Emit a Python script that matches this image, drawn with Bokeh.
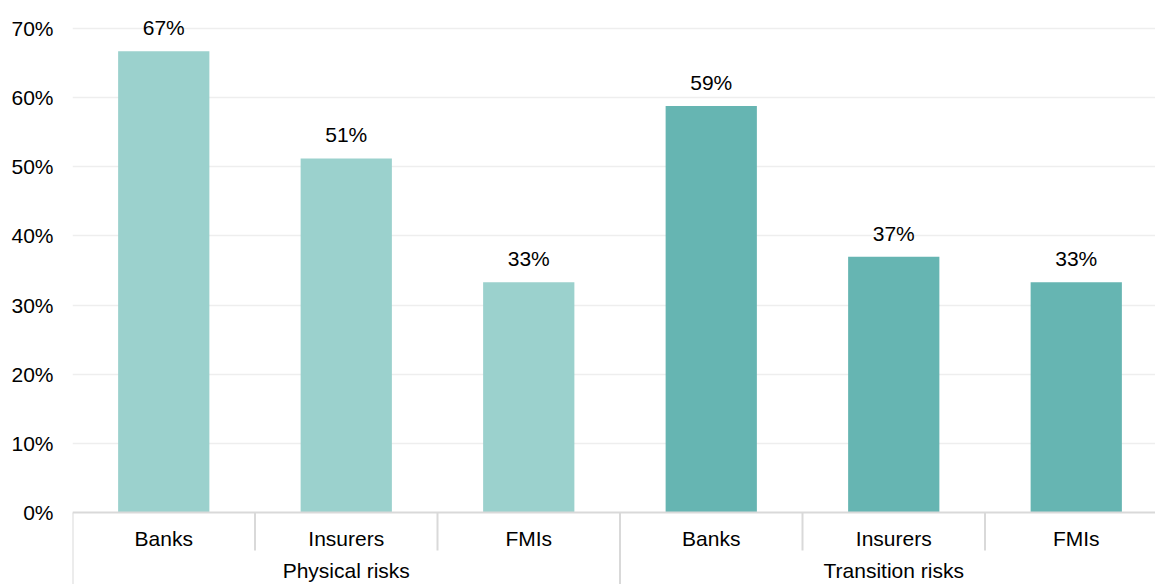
from bokeh.plotting import figure
from bokeh.models import Range1d, FixedTicker, ColumnDataSource, NumeralTickFormatter
from bokeh.core.properties import value
from bokeh.embed import file_html
from bokeh.resources import INLINE

# ---- data ----
groups = ["Physical risks", "Transition risks"]
categories = ["Banks", "Insurers", "FMIs"]
physical = [66.7, 51.2, 33.3]
transition = [58.8, 37.0, 33.3]
y_ticks = [0, 10, 20, 30, 40, 50, 60, 70]
colors = ["#9bd1cd", "#66b5b2"]

FONT = "Liberation Sans"
FS = "21px"

# layout constants (pixels)
PX_PER_UNIT = 484 / 70.0
CAT_PX = 182.5
LEFT = 72
FIG_W = 1155
FIG_H = 584
ZERO_FROM_TOP = 512
FRAME_W = FIG_W - LEFT

y_top = ZERO_FROM_TOP / PX_PER_UNIT
y_bot = -(FIG_H - ZERO_FROM_TOP) / PX_PER_UNIT

p = figure(width=FIG_W, height=FIG_H, output_backend="svg", toolbar_location=None,
           x_range=Range1d(0, FRAME_W / CAT_PX), y_range=Range1d(y_bot, y_top),
           min_border_left=LEFT, min_border_right=0, min_border_top=0, min_border_bottom=0,
           x_axis_type=None)
p.outline_line_color = None
p.background_fill_color = "white"
p.border_fill_color = "white"

# y axis
p.yaxis.ticker = FixedTicker(ticks=y_ticks)
p.yaxis.formatter = NumeralTickFormatter(format="0")
p.yaxis.major_label_overrides = {t: f"{t}%" for t in y_ticks}
p.yaxis.axis_line_color = None
p.yaxis.major_tick_line_color = None
p.yaxis.minor_tick_line_color = None
p.yaxis.major_tick_out = 0
p.yaxis.major_tick_in = 0
p.yaxis.minor_tick_out = 0
p.yaxis.major_label_standoff = 19
p.yaxis.major_label_text_font = FONT
p.yaxis.major_label_text_font_size = FS
p.yaxis.major_label_text_color = "#000000"
p.ygrid.ticker = FixedTicker(ticks=[t for t in y_ticks if t > 0])
p.ygrid.grid_line_color = "#eeeeee"
p.ygrid.grid_line_width = 1.5
p.xgrid.grid_line_color = None

# bars
xs, tops, fills, cats, labels = [], [], [], [], []
for gi, (g, vals) in enumerate(zip(groups, [physical, transition])):
    for ci, (c, v) in enumerate(zip(categories, vals)):
        i = gi * len(categories) + ci
        xs.append(i + 0.5)
        tops.append(v)
        fills.append(colors[gi])
        cats.append(c)
        labels.append(f"{round(v):d}%")
src = ColumnDataSource(dict(x=xs, top=tops, color=fills, cat=cats, label=labels, zero=[0] * len(xs)))

p.vbar(x="x", top="top", width=0.5, color="color", line_color=None, source=src)

# value labels
p.text(x="x", y="top", text="label", source=src, text_align="center", text_baseline="alphabetic",
       y_offset=-23.5, text_font=value(FONT), text_font_size=FS, text_color="#000000")

# zero axis line
n = len(xs)
p.segment(x0=[0], y0=[0], x1=[n], y1=[0], line_color="#d9d9d9", line_width=2)

# category separators
short_len = 38 / PX_PER_UNIT
sx, sy1 = [], []
for i in range(n):
    sx.append(i)
    if i % len(categories) == 0:
        sy1.append(y_bot)
    else:
        sy1.append(-short_len)
p.segment(x0=sx, y0=[0] * n, x1=sx, y1=sy1, line_color="#d9d9d9", line_width=2)

# category labels
p.text(x="x", y="zero", text="cat", source=src, text_align="center", text_baseline="alphabetic",
       y_offset=26, text_font=value(FONT), text_font_size=FS, text_color="#000000")

# group labels
gx = [gi * len(categories) + len(categories) / 2 for gi in range(len(groups))]
p.text(x=gx, y=[0] * len(groups), text=groups, text_align="center", text_baseline="alphabetic",
       y_offset=58, text_font=value(FONT), text_font_size=FS, text_color="#000000")

open("out.html", "w").write(file_html(p, INLINE))
